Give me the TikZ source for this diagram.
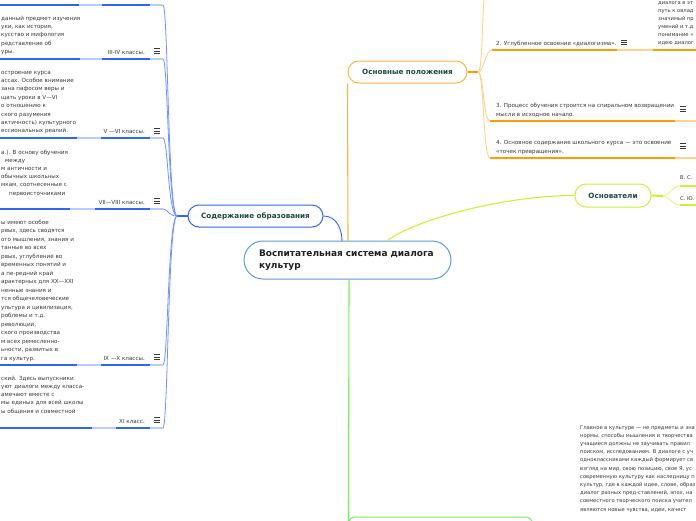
\documentclass[tikz,border=0pt]{standalone}
\usepackage{fontspec}
\setmainfont{DejaVu Sans}
\usetikzlibrary{calc}
\definecolor{bblue}{HTML}{2F66F5}
\definecolor{lblue}{HTML}{B9CCFF}
\definecolor{cblue}{HTML}{6F93FF}
\definecolor{orng}{HTML}{FF9C00}
\definecolor{lorng}{HTML}{FFD28C}
\definecolor{morng}{HTML}{FFB340}
\definecolor{lime}{HTML}{CCF03A}
\definecolor{llime}{HTML}{E4F890}
\definecolor{grn}{HTML}{78EE58}
\definecolor{ttl}{HTML}{1C4A3A}
\definecolor{cbord}{HTML}{5A9BD8}
\definecolor{txtc}{HTML}{383838}
\tikzset{
  sm/.style={font=\fontsize{5.6}{7}\selectfont, text=txtc, inner sep=0pt},
  smb/.style={font=\fontsize{5.2}{7}\selectfont, text=txtc, inner sep=0pt},
  branch/.style={fill=white, line width=1pt, rounded corners=11pt, minimum height=22pt, inner sep=0pt,
     font=\fontsize{7.2}{9}\selectfont\bfseries, text=ttl},
  bthick/.style={draw=bblue, line width=2pt},
  blight/.style={draw=lblue, line width=1.6pt},
  bconn/.style={draw=cblue, line width=0.8pt},
  othick/.style={draw=orng, line width=2pt},
  olight/.style={draw=lorng, line width=1.4pt},
  oconn/.style={draw=lorng, line width=0.9pt},
  lthick/.style={draw=lime, line width=2pt},
  lconn/.style={draw=llime, line width=1pt},
  menuic/.pic={\draw[line width=0.65pt, txtc] (-3,-2.2)--(3,-2.2) (-3,0)--(3,0) (-3,2.2)--(3,2.2);}
}
\begin{document}
\begin{tikzpicture}[x=1pt,y=-1pt]
\clip (0,0) rectangle (696,520);
\fill[white] (0,0) rectangle (696,520);

% ---------- main nodes ----------
\node[draw=cbord, line width=1pt, fill=white, rounded corners=19pt, minimum width=207pt, minimum height=38pt,
      text width=177pt, align=left, inner sep=0pt, font=\fontsize{9}{12.5}\selectfont\bfseries, text=black!88]
      (ctr) at (347.5,260) {Воспитательная система диалога\\культур};
\node[branch, draw=bblue, minimum width=135pt] (sod) at (255.5,216) {Содержание образования};
\node[branch, draw=morng, minimum width=119pt] (osn) at (407.5,72) {Основные положения};
\node[branch, draw=lime, minimum width=76pt, minimum height=23pt] (osv) at (613,195.5) {Основатели};
\node[fill=white, draw=grn, line width=1pt, rounded corners=6pt, minimum width=183pt, minimum height=30pt] (grnode) at (440.5,532) {};

% ---------- connectors from the centre ----------
\coordinate (cB) at (342,241);
\coordinate (cO) at (348,241);
\coordinate (cL) at (387,241);
\coordinate (cG) at (349,279);
\draw[bblue, line width=0.9pt] (sod.east) .. controls ($(sod.east)+(13,0)$) and ($(cB)+(0,-12)$) .. (cB);
\draw[morng, line width=1.1pt] (cO) -- (osn.south west);
\draw[lime, line width=1.1pt] (cL) .. controls ($(cL)+(23,-19)$) and ($(osv.west)+(-75,0)$) .. (osv.west);
\draw[grn, line width=1.1pt] (cG) -- ($(grnode.north west)+(0,6)$);

% ---------- blue branch (left) ----------
\coordinate (hubB) at (177,216);
\draw[bthick] (sod.west) -- (hubB);
\foreach \y [count=\k] in {5,59,138,209,365,428} {
  \coordinate (bc\k) at (163,\y);
  \draw[bconn] (hubB) .. controls ($(hubB)+(-9,0)$) and ($(bc\k)+(5,0)$) .. (bc\k);
}
% underlines: y, end of paragraph line, start of label line
\foreach \y/\a/\b in {5/79/102, 59/80/102, 138/77/101, 209/70/95, 365/77/101, 428/92/116} {
  \draw[bthick] (0,\y) -- (\a,\y);
  \draw[blight] (\a,\y) -- (\b,\y);
  \draw[bthick] (\b,\y) -- (150,\y);
  \draw[blight] (150,\y) -- (163,\y);
}

% child III-IV
\foreach \t [count=\i] in {{данный предмет изучения},{уки, как история,},{кусство и мифология},{редставление об},{уры.}}
  \node[sm, anchor=base west] (a\i) at (1,{20+8.4*(\i-1)}) {\t};
\node[sm, anchor=base east] (la) at (145,54) {III-IV классы.};
\pic at (157,51) {menuic};

% child V-VI
\foreach \t [count=\i] in {{остроение курса},{ассах. Особое внимание},{зана пафосом веры и},{щать уроки в V—VI},{о отношению к},{ского разумения},{актичность) культурного},{ессиональных реалий.}}
  \node[sm, anchor=base west] (b\i) at (1,{74+8.4*(\i-1)}) {\t};
\node[sm, anchor=base east] (lb) at (145,133) {V —VI классы.};
\pic at (157,131) {menuic};

% child VII-VIII
\foreach \t/\x [count=\i] in {{а.). В основу обучения}/1,{между}/5,{м античности и}/1,{обычных школьных}/1,{мкам, соотнесенные с}/1,{первоисточниками}/9}
  \node[sm, anchor=base west] (c\i) at (\x,{154+8.2*(\i-1)}) {\t};
\node[sm, anchor=base east] (lc) at (145,204) {VII—VIII классы.};
\pic at (157,201) {menuic};

% child IX-X
\foreach \t [count=\i] in {{ы имеют особое},{рвых, здесь сводятся},{ого мышления, знания и},{танные во всех},{рвых, углубление во},{временных понятий и},{а пе-редний край},{арактерных для XX—XXI},{ненные знания и},{тся общечеловеческие},{ультура и цивилизация,},{роблемы и т.д.},{ революции,},{ского производства},{м всех ремесленно-},{ьности, развитых в},{га культур.}}
  \node[sm, anchor=base west] (d\i) at (1,{224+8.5*(\i-1)}) {\t};
\node[sm, anchor=base east] (ld) at (145,360) {IX —X классы.};
\pic at (157,357) {menuic};

% child XI
\foreach \t [count=\i] in {{ский. Здесь выпускники},{уют диалоги между класса-},{амечают вместе с},{мы единых для всей школы},{ы общения и совместной}}
  \node[sm, anchor=base west] (e\i) at (1,{380+8.3*(\i-1)}) {\t};
\node[sm, anchor=base east] (le) at (145,423) {XI класс.};
\pic at (157,420) {menuic};

% ---------- orange branch ----------
\coordinate (hubO) at (478,72);
\draw[othick] (osn.east) -- (hubO);
\coordinate (o1) at (488,-20);
\coordinate (o2) at (492,50);
\coordinate (o3) at (490,121);
\coordinate (o4) at (490,158);
\foreach \c in {o1,o2,o3,o4}
  \draw[oconn] (hubO) .. controls ($(hubO)+(6,0)$) and ($(\c)+(-7,0)$) .. (\c);
\draw[othick] (o2) -- (617,50);
\draw[olight] (617,50) -- (653,50);
\draw[othick] (653,50) -- (696,50);
\draw[othick] (o3) -- (675,121);
\draw[olight] (675,121) -- (696,121);
\draw[othick] (o4) -- (675,158);
\draw[olight] (675,158) -- (696,158);

\node[sm, anchor=base west] (t2) at (496,45) {2. Углубленное освоение «диалогизма».};
\pic at (624,42.5) {menuic};
\foreach \t [count=\i] in {{диалога в эт},{путь к овлад},{значимый пр},{умений и т.д},{понимание «},{идею диалог}}
  \node[smb, anchor=base west] (r\i) at (658,{4.5+7.9*(\i-1)}) {\t};
\node[sm, anchor=base west] (t3a) at (496,107) {3. Процесс обучения строится на спиральном возвращении};
\node[sm, anchor=base west] (t3b) at (496,116) {мысли в исходное начало.};
\pic at (683,109) {menuic};
\node[sm, anchor=base west] (t4a) at (496,144) {4. Основное содержание школьного курса — это освоение};
\node[sm, anchor=base west] (t4b) at (496,153) {«точек превращения».};
\pic at (683,146) {menuic};

% ---------- lime branch ----------
\coordinate (hubL) at (663,196);
\draw[lthick] (osv.east) -- (hubL);
\coordinate (l1) at (680,186);
\coordinate (l2) at (680,205);
\foreach \c in {l1,l2}
  \draw[lconn] (hubL) .. controls ($(hubL)+(6,0)$) and ($(\c)+(-8,0)$) .. (\c);
\draw[lthick] (l1) -- (696,186);
\draw[lthick] (l2) -- (696,205);
\node[smb, anchor=base west] (f1) at (680,179.5) {В. С.};
\node[smb, anchor=base west] (f2) at (680,200) {С. Ю.};

% ---------- green branch text ----------
\foreach \t [count=\i] in {{Главное в культуре — не предметы и зна},{нормы, способы мышления и творчества},{учащиеся должны не заучивать правил},{поиском, исследованием. В диалоге с уч},{одноклассниками каждый формирует св},{взгляд на мир, свою позицию, свое Я, ус},{современную культуру как наследницу п},{культур, где в каждой идее, слове, образ},{диалог разных пред-ставлений, эпох, на},{совместного творческого поиска учител},{являются новые чувства, идеи, качест}}
  \node[smb, anchor=base west] (g\i) at (580,{429+8.2*(\i-1)}) {\t};
\end{tikzpicture}
\end{document}
